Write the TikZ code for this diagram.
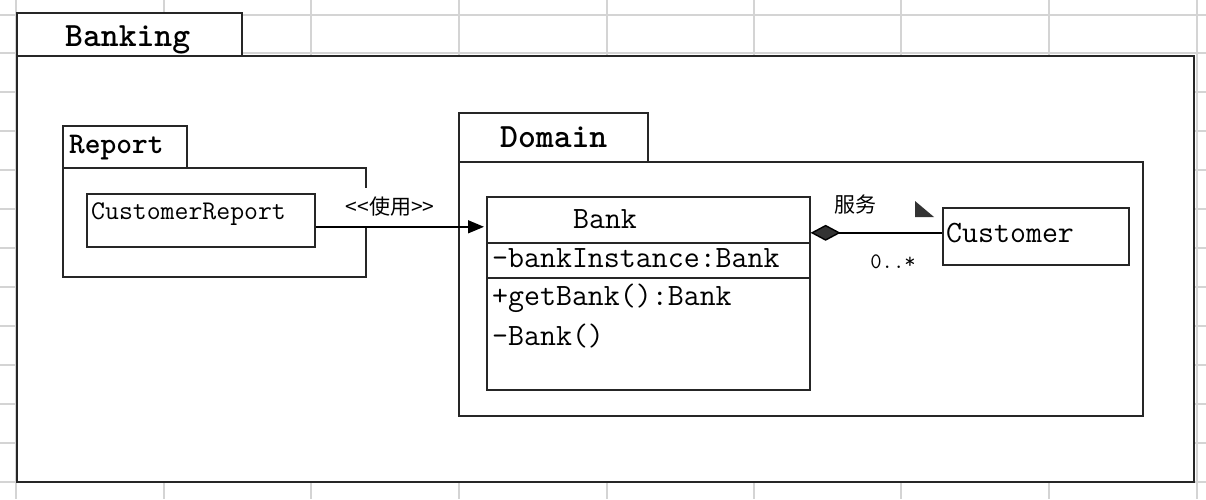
\documentclass[tikz,border=0pt]{standalone}
\usepackage{fontspec}
\newfontfamily\cjk{Noto Sans CJK SC}
\usetikzlibrary{arrows.meta}
\def\umlfont#1{\ttfamily\fontsize{#1}{#1}\selectfont}
\def\cjkfont#1{\cjk\fontsize{#1}{#1}\selectfont}

\begin{document}
\begin{tikzpicture}[x=1pt, y=-1pt,
		gridline/.style={line width=1.2pt, color=black!17},
		frame/.style={draw=black!85, line width=1.6pt, fill=white},
		classbox/.style={draw=black!85, line width=1.6pt, fill=white, inner sep=0pt, anchor=north west},
		sepline/.style={line width=1.4pt, color=black!85},
		txt/.style={inner sep=0pt, anchor=base west},
		dep/.style={line width=1.4pt, -{Triangle[length=16pt,width=13pt]}, shorten >=2pt},
		compo/.style={line width=1.4pt, -{Diamond[length=30pt,width=16pt,fill=black!80]}}]
		%%%%% START %%%%%
		\useasboundingbox (0,0) rectangle (1206,499);
		
		\foreach \gx in {16,164,311,459,607,754,901,1049,1197}
			\draw[gridline] (\gx,0) -- (\gx,499);
		\foreach \gy in {15,53,92,131,170,209,248,287,326,365,404,443,482}
			\draw[gridline] (0,\gy) -- (1206,\gy);
		
		% Banking
		\draw[frame] (17,13) rectangle (242,56);
		\draw[frame] (17,56) rectangle (1194,482);
		\node[txt] (bankingname) at (65,46) {\umlfont{34}\bfseries Banking};
		
		% Report
		\draw[frame] (63,126) rectangle (187,168);
		\draw[frame] (63,168) rectangle (366,277);
		\node[txt] (reportname) at (69,153) {\umlfont{30}\bfseries Report};
		\node[classbox, minimum width=228pt, minimum height=53pt] (cr) at (86,193) {};
		\node[txt] (crname) at (91,219) {\umlfont{27}CustomerReport};
		
		% Domain
		\draw[frame] (459,113) rectangle (648,162);
		\draw[frame] (459,162) rectangle (1143,416);
		\node[txt] (domainname) at (500,147) {\umlfont{34}\bfseries Domain};
		
		\node[classbox, minimum width=323pt, minimum height=193pt] (bank) at (486,196) {};
		\draw[sepline] (bank.west |- 0,243) -- (bank.east |- 0,243);
		\draw[sepline] (bank.west |- 0,278) -- (bank.east |- 0,278);
		\node[txt, anchor=base] (banktitle) at (605,228) {\umlfont{31}Bank};
		\node[txt] (bankattr) at (492,267) {\umlfont{31}-bankInstance:Bank};
		\node[txt] (bankop1) at (492,305) {\umlfont{31}+getBank():Bank};
		\node[txt] (bankop2) at (492,345) {\umlfont{31}-Bank()};
		
		\node[classbox, minimum width=186pt, minimum height=57pt] (cust) at (942,207) {};
		\node[txt] (custname) at (946,242) {\umlfont{31}Customer};
		
		% links
		\node[fill=white, minimum height=38pt, inner xsep=3pt] (uselbl) at (390,206.5) {\cjkfont{21}<<使用>>};
		\draw[dep] ([yshift=-6.5pt]cr.east) -- ([yshift=-6.5pt]cr.east -| bank.west);
		
		\draw[compo] ([yshift=3.5pt]cust.west) -- ([yshift=3.5pt]cust.west -| bank.east);
		\node (svclbl) at (855,205) {\cjkfont{21}服务};
		\node (multlbl) at (893,262) {\umlfont{22}0..*};
		\fill[black!80] (915,201) -- (915,217) -- (934,217) -- cycle;
		
		%%%%% END %%%%%
	\end{tikzpicture}
\end{document}
